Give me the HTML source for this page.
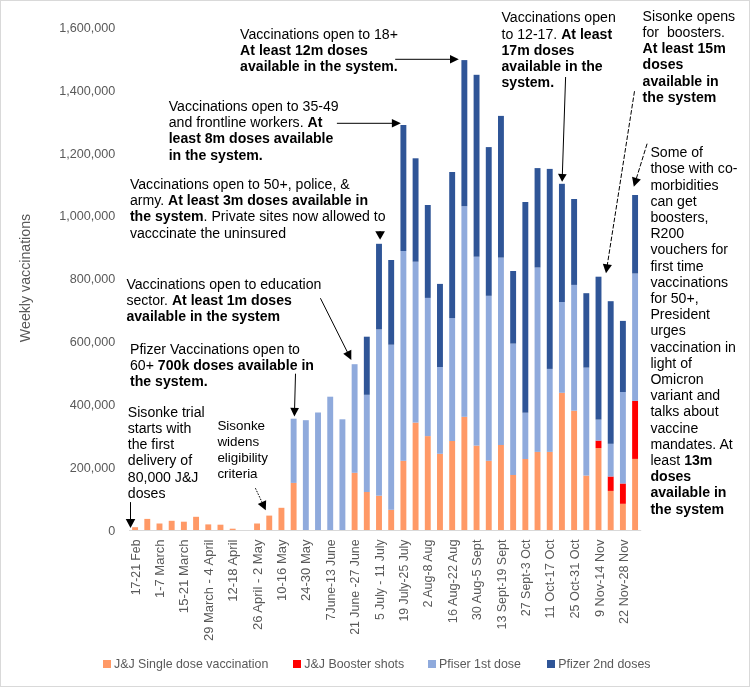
<!DOCTYPE html>
<html><head><meta charset="utf-8"><style>
html,body{margin:0;padding:0;background:#fff;}
#c{position:relative;width:750px;height:687px;overflow:hidden;background:#fff;will-change:transform;font-family:"Liberation Sans",sans-serif;}
#frame{position:absolute;left:0;top:0;width:748px;height:685px;border:1px solid #D9D9D9;}
svg{position:absolute;left:0;top:0;}
.yl{position:absolute;right:634.8px;font-size:12.6px;color:#595959;line-height:15px;white-space:nowrap;}
.xl{position:absolute;top:539.5px;width:0;height:0;font-size:12.6px;color:#595959;white-space:nowrap;}
.xl span{position:absolute;right:0;top:-7.5px;line-height:15px;transform-origin:100% 50%;transform:rotate(-90deg);}
.ann{position:absolute;font-size:14.12px;line-height:16.2px;color:#000;white-space:nowrap;}
.ann b{font-weight:bold;}
.lg{position:absolute;top:656px;font-size:12.4px;color:#595959;white-space:nowrap;line-height:16px;}
.sw{display:inline-block;width:8px;height:8px;margin-right:3px;vertical-align:0px;}
#yt{position:absolute;left:25px;top:278px;width:0;height:0;}
#yt div{position:absolute;transform:translate(-50%,-50%) rotate(-90deg);font-size:14.2px;color:#595959;white-space:nowrap;}
</style></head><body><div id="c">
<div id="frame"></div>
<svg width="750" height="687" viewBox="0 0 750 687">
<line x1="129.0" y1="530.5" x2="641.2" y2="530.5" stroke="#D9D9D9" stroke-width="1"/>
<rect x="132.15" y="527.20" width="5.9" height="2.80" fill="#FF9966"/>
<rect x="144.34" y="518.90" width="5.9" height="11.10" fill="#FF9966"/>
<rect x="156.54" y="523.50" width="5.9" height="6.50" fill="#FF9966"/>
<rect x="168.73" y="520.80" width="5.9" height="9.20" fill="#FF9966"/>
<rect x="180.93" y="521.70" width="5.9" height="8.30" fill="#FF9966"/>
<rect x="193.12" y="516.80" width="5.9" height="13.20" fill="#FF9966"/>
<rect x="205.32" y="524.40" width="5.9" height="5.60" fill="#FF9966"/>
<rect x="217.51" y="524.70" width="5.9" height="5.30" fill="#FF9966"/>
<rect x="229.71" y="528.70" width="5.9" height="1.30" fill="#FF9966"/>
<rect x="254.10" y="523.50" width="5.9" height="6.50" fill="#FF9966"/>
<rect x="266.29" y="515.60" width="5.9" height="14.40" fill="#FF9966"/>
<rect x="278.49" y="507.80" width="5.9" height="22.20" fill="#FF9966"/>
<rect x="290.68" y="482.90" width="5.9" height="47.10" fill="#FF9966"/>
<rect x="290.68" y="418.70" width="5.9" height="64.20" fill="#8FAADC"/>
<rect x="302.88" y="420.20" width="5.9" height="109.80" fill="#8FAADC"/>
<rect x="315.07" y="412.50" width="5.9" height="117.50" fill="#8FAADC"/>
<rect x="327.27" y="396.70" width="5.9" height="133.30" fill="#8FAADC"/>
<rect x="339.46" y="419.30" width="5.9" height="110.70" fill="#8FAADC"/>
<rect x="351.66" y="472.80" width="5.9" height="57.20" fill="#FF9966"/>
<rect x="351.66" y="364.20" width="5.9" height="108.60" fill="#8FAADC"/>
<rect x="363.85" y="492.00" width="5.9" height="38.00" fill="#FF9966"/>
<rect x="363.85" y="394.80" width="5.9" height="97.20" fill="#8FAADC"/>
<rect x="363.85" y="336.70" width="5.9" height="58.10" fill="#2F5597"/>
<rect x="376.05" y="495.70" width="5.9" height="34.30" fill="#FF9966"/>
<rect x="376.05" y="329.40" width="5.9" height="166.30" fill="#8FAADC"/>
<rect x="376.05" y="243.80" width="5.9" height="85.60" fill="#2F5597"/>
<rect x="388.24" y="509.80" width="5.9" height="20.20" fill="#FF9966"/>
<rect x="388.24" y="344.70" width="5.9" height="165.10" fill="#8FAADC"/>
<rect x="388.24" y="260.00" width="5.9" height="84.70" fill="#2F5597"/>
<rect x="400.44" y="460.80" width="5.9" height="69.20" fill="#FF9966"/>
<rect x="400.44" y="251.00" width="5.9" height="209.80" fill="#8FAADC"/>
<rect x="400.44" y="125.00" width="5.9" height="126.00" fill="#2F5597"/>
<rect x="412.63" y="422.60" width="5.9" height="107.40" fill="#FF9966"/>
<rect x="412.63" y="261.70" width="5.9" height="160.90" fill="#8FAADC"/>
<rect x="412.63" y="158.30" width="5.9" height="103.40" fill="#2F5597"/>
<rect x="424.83" y="436.10" width="5.9" height="93.90" fill="#FF9966"/>
<rect x="424.83" y="297.90" width="5.9" height="138.20" fill="#8FAADC"/>
<rect x="424.83" y="205.00" width="5.9" height="92.90" fill="#2F5597"/>
<rect x="437.02" y="453.80" width="5.9" height="76.20" fill="#FF9966"/>
<rect x="437.02" y="367.00" width="5.9" height="86.80" fill="#8FAADC"/>
<rect x="437.02" y="283.90" width="5.9" height="83.10" fill="#2F5597"/>
<rect x="449.22" y="441.00" width="5.9" height="89.00" fill="#FF9966"/>
<rect x="449.22" y="318.10" width="5.9" height="122.90" fill="#8FAADC"/>
<rect x="449.22" y="172.00" width="5.9" height="146.10" fill="#2F5597"/>
<rect x="461.41" y="416.80" width="5.9" height="113.20" fill="#FF9966"/>
<rect x="461.41" y="206.20" width="5.9" height="210.60" fill="#8FAADC"/>
<rect x="461.41" y="60.10" width="5.9" height="146.10" fill="#2F5597"/>
<rect x="473.61" y="445.60" width="5.9" height="84.40" fill="#FF9966"/>
<rect x="473.61" y="256.70" width="5.9" height="188.90" fill="#8FAADC"/>
<rect x="473.61" y="74.80" width="5.9" height="181.90" fill="#2F5597"/>
<rect x="485.80" y="460.80" width="5.9" height="69.20" fill="#FF9966"/>
<rect x="485.80" y="295.80" width="5.9" height="165.00" fill="#8FAADC"/>
<rect x="485.80" y="147.10" width="5.9" height="148.70" fill="#2F5597"/>
<rect x="498.00" y="445.00" width="5.9" height="85.00" fill="#FF9966"/>
<rect x="498.00" y="257.60" width="5.9" height="187.40" fill="#8FAADC"/>
<rect x="498.00" y="115.90" width="5.9" height="141.70" fill="#2F5597"/>
<rect x="510.19" y="475.00" width="5.9" height="55.00" fill="#FF9966"/>
<rect x="510.19" y="343.60" width="5.9" height="131.40" fill="#8FAADC"/>
<rect x="510.19" y="271.00" width="5.9" height="72.60" fill="#2F5597"/>
<rect x="522.39" y="459.00" width="5.9" height="71.00" fill="#FF9966"/>
<rect x="522.39" y="412.70" width="5.9" height="46.30" fill="#8FAADC"/>
<rect x="522.39" y="202.00" width="5.9" height="210.70" fill="#2F5597"/>
<rect x="534.58" y="451.90" width="5.9" height="78.10" fill="#FF9966"/>
<rect x="534.58" y="267.50" width="5.9" height="184.40" fill="#8FAADC"/>
<rect x="534.58" y="168.10" width="5.9" height="99.40" fill="#2F5597"/>
<rect x="546.78" y="451.90" width="5.9" height="78.10" fill="#FF9966"/>
<rect x="546.78" y="368.90" width="5.9" height="83.00" fill="#8FAADC"/>
<rect x="546.78" y="168.90" width="5.9" height="200.00" fill="#2F5597"/>
<rect x="558.97" y="392.80" width="5.9" height="137.20" fill="#FF9966"/>
<rect x="558.97" y="302.00" width="5.9" height="90.80" fill="#8FAADC"/>
<rect x="558.97" y="183.80" width="5.9" height="118.20" fill="#2F5597"/>
<rect x="571.17" y="410.70" width="5.9" height="119.30" fill="#FF9966"/>
<rect x="571.17" y="284.90" width="5.9" height="125.80" fill="#8FAADC"/>
<rect x="571.17" y="199.00" width="5.9" height="85.90" fill="#2F5597"/>
<rect x="583.36" y="475.60" width="5.9" height="54.40" fill="#FF9966"/>
<rect x="583.36" y="367.60" width="5.9" height="108.00" fill="#8FAADC"/>
<rect x="583.36" y="293.20" width="5.9" height="74.40" fill="#2F5597"/>
<rect x="595.56" y="448.10" width="5.9" height="81.90" fill="#FF9966"/>
<rect x="595.56" y="440.60" width="5.9" height="7.50" fill="#FF0000"/>
<rect x="595.56" y="419.60" width="5.9" height="21.00" fill="#8FAADC"/>
<rect x="595.56" y="276.70" width="5.9" height="142.90" fill="#2F5597"/>
<rect x="607.75" y="490.90" width="5.9" height="39.10" fill="#FF9966"/>
<rect x="607.75" y="476.50" width="5.9" height="14.40" fill="#FF0000"/>
<rect x="607.75" y="443.80" width="5.9" height="32.70" fill="#8FAADC"/>
<rect x="607.75" y="301.20" width="5.9" height="142.60" fill="#2F5597"/>
<rect x="619.95" y="503.80" width="5.9" height="26.20" fill="#FF9966"/>
<rect x="619.95" y="483.50" width="5.9" height="20.30" fill="#FF0000"/>
<rect x="619.95" y="392.00" width="5.9" height="91.50" fill="#8FAADC"/>
<rect x="619.95" y="320.90" width="5.9" height="71.10" fill="#2F5597"/>
<rect x="632.14" y="458.90" width="5.9" height="71.10" fill="#FF9966"/>
<rect x="632.14" y="400.90" width="5.9" height="58.00" fill="#FF0000"/>
<rect x="632.14" y="273.50" width="5.9" height="127.40" fill="#8FAADC"/>
<rect x="632.14" y="195.00" width="5.9" height="78.50" fill="#2F5597"/>
<line x1="395.2" y1="59.3" x2="451.00" y2="59.30" stroke="#000" stroke-width="1.0"/><polygon points="458.8,59.3 450.00,63.60 450.00,55.00" fill="#000"/><line x1="336.9" y1="123.3" x2="392.90" y2="123.30" stroke="#000" stroke-width="1.0"/><polygon points="400.9,123.3 391.90,127.55 391.90,119.05" fill="#000"/><line x1="380.1" y1="231.0" x2="380.10" y2="232.20" stroke="#000" stroke-width="1.0"/><polygon points="380.1,239.7 375.25,231.20 384.95,231.20" fill="#000"/><line x1="320.4" y1="298.2" x2="347.72" y2="352.75" stroke="#000" stroke-width="1.0"/><polygon points="351.3,359.9 343.25,353.87 351.29,349.84" fill="#000"/><line x1="295.5" y1="373.7" x2="294.59" y2="408.90" stroke="#000" stroke-width="1.0"/><polygon points="294.4,416.4 290.27,407.79 298.97,408.01" fill="#000"/><line x1="130.5" y1="502.1" x2="130.50" y2="520.00" stroke="#000" stroke-width="1.0"/><polygon points="130.5,527.9 125.75,519.00 135.25,519.00" fill="#000"/><line x1="255.4" y1="488.2" x2="262.39" y2="503.06" stroke="#000" stroke-width="1.0" stroke-dasharray="1.6,1.3"/><polygon points="265.8,510.3 257.81,504.12 266.13,500.20" fill="#000"/><line x1="565.6" y1="77.0" x2="562.33" y2="175.00" stroke="#000" stroke-width="1.0"/><polygon points="562.1,181.8 558.01,173.86 566.71,174.15" fill="#000"/><line x1="634.5" y1="91.2" x2="607.24" y2="265.40" stroke="#000" stroke-width="1.0" stroke-dasharray="4.6,1.8"/><polygon points="606.0,273.3 602.85,263.70 611.94,265.12" fill="#000"/><line x1="647.1" y1="143.7" x2="636.16" y2="179.16" stroke="#000" stroke-width="1.0" stroke-dasharray="4.6,1.8"/><polygon points="633.8,186.8 632.06,176.84 640.85,179.56" fill="#000"/>
</svg>
<div class="yl" style="top:523.5px">0</div><div class="yl" style="top:460.7px">200,000</div><div class="yl" style="top:397.9px">400,000</div><div class="yl" style="top:335.0px">600,000</div><div class="yl" style="top:272.2px">800,000</div><div class="yl" style="top:209.4px">1,000,000</div><div class="yl" style="top:146.5px">1,200,000</div><div class="yl" style="top:83.7px">1,400,000</div><div class="yl" style="top:20.9px">1,600,000</div>
<div id="yt"><div>Weekly vaccinations</div></div>
<div class="xl" style="left:136.1px"><span style="transform:rotate(-90deg) scaleX(0.973)">17-21 Feb</span></div><div class="xl" style="left:160.5px"><span style="transform:rotate(-90deg) scaleX(1.033)">1-7 March</span></div><div class="xl" style="left:184.9px"><span style="transform:rotate(-90deg) scaleX(1.042)">15-21 March</span></div><div class="xl" style="left:209.3px"><span style="transform:rotate(-90deg) scaleX(1.029)">29 March - 4 April</span></div><div class="xl" style="left:233.7px"><span style="transform:rotate(-90deg) scaleX(1.034)">12-18 April</span></div><div class="xl" style="left:258.0px"><span style="transform:rotate(-90deg) scaleX(1.035)">26 April - 2 May</span></div><div class="xl" style="left:282.4px"><span style="transform:rotate(-90deg) scaleX(1.034)">10-16 May</span></div><div class="xl" style="left:306.8px"><span style="transform:rotate(-90deg) scaleX(1.034)">24-30 May</span></div><div class="xl" style="left:331.2px"><span style="transform:rotate(-90deg) scaleX(0.968)">7June-13 June</span></div><div class="xl" style="left:355.6px"><span style="transform:rotate(-90deg) scaleX(0.979)">21 June -27 June</span></div><div class="xl" style="left:380.0px"><span style="transform:rotate(-90deg) scaleX(0.968)">5 July - 11 July</span></div><div class="xl" style="left:404.4px"><span style="transform:rotate(-90deg) scaleX(0.976)">19 July-25 July</span></div><div class="xl" style="left:428.8px"><span style="transform:rotate(-90deg) scaleX(0.991)">2 Aug-8 Aug</span></div><div class="xl" style="left:453.2px"><span style="transform:rotate(-90deg) scaleX(1.012)">16 Aug-22 Aug</span></div><div class="xl" style="left:477.6px"><span style="transform:rotate(-90deg) scaleX(1.013)">30 Aug-5 Sept</span></div><div class="xl" style="left:501.9px"><span style="transform:rotate(-90deg) scaleX(0.989)">13 Sept-19 Sept</span></div><div class="xl" style="left:526.3px"><span style="transform:rotate(-90deg) scaleX(0.987)">27 Sept-3 Oct</span></div><div class="xl" style="left:550.7px"><span style="transform:rotate(-90deg) scaleX(1.021)">11 Oct-17 Oct</span></div><div class="xl" style="left:575.1px"><span style="transform:rotate(-90deg) scaleX(1.008)">25 Oct-31 Oct</span></div><div class="xl" style="left:599.5px"><span style="transform:rotate(-90deg) scaleX(1.007)">9 Nov-14 Nov</span></div><div class="xl" style="left:623.9px"><span style="transform:rotate(-90deg) scaleX(1.005)">22 Nov-28 Nov</span></div>
<div class="ann" style="left:240.1px;top:26.0px;">Vaccinations open to 18+<br><b>At least 12m doses<br>available in the system.</b></div><div class="ann" style="left:168.7px;top:98.0px;">Vaccinations open to 35-49<br>and frontline workers. <b>At<br>least 8m doses available<br>in the system.</b></div><div class="ann" style="left:129.9px;top:176.0px;">Vaccinations open to 50+, police, &amp;<br>army. <b>At least 3m doses available in<br>the system</b>. Private sites now allowed to<br>vacccinate the uninsured</div><div class="ann" style="left:126.4px;top:275.9px;">Vaccinations open to education<br>sector. <b>At least 1m doses<br>available in the system</b></div><div class="ann" style="left:130.0px;top:340.9px;">Pfizer Vaccinations open to<br>60+ <b>700k doses available in<br>the system.</b></div><div class="ann" style="left:127.8px;top:403.8px;">Sisonke trial<br>starts with<br>the first<br>delivery of<br>80,000 J&amp;J<br>doses</div><div class="ann" style="left:217.4px;top:417.8px;font-size:13.4px;line-height:16px;">Sisonke<br>widens<br>eligibility<br>criteria</div><div class="ann" style="left:501.5px;top:9.3px;">Vaccinations open<br>to 12-17. <b>At least<br>17m doses<br>available in the<br>system.</b></div><div class="ann" style="left:642.6px;top:7.8px;">Sisonke opens<br>for&nbsp; boosters.<br><b>At least 15m<br>doses<br>available in<br>the system</b></div><div class="ann" style="left:650.4px;top:144.1px;">Some of<br>those with co-<br>morbidities<br>can get<br>boosters,<br>R200<br>vouchers for<br>first time<br>vaccinations<br>for 50+,<br>President<br>urges<br>vaccination in<br>light of<br>Omicron<br>variant and<br>talks about<br>vaccine<br>mandates. At<br>least <b>13m<br>doses<br>available in<br>the system</b></div>

<div class="lg" style="left:103px"><span class="sw" style="background:#FF9966"></span>J&amp;J Single dose vaccination</div>
<div class="lg" style="left:293.3px"><span class="sw" style="background:#FF0000"></span>J&amp;J Booster shots</div>
<div class="lg" style="left:428px"><span class="sw" style="background:#8FAADC"></span>Pfiser 1st dose</div>
<div class="lg" style="left:547.2px"><span class="sw" style="background:#2F5597"></span>Pfizer 2nd doses</div>

</div></body></html>
